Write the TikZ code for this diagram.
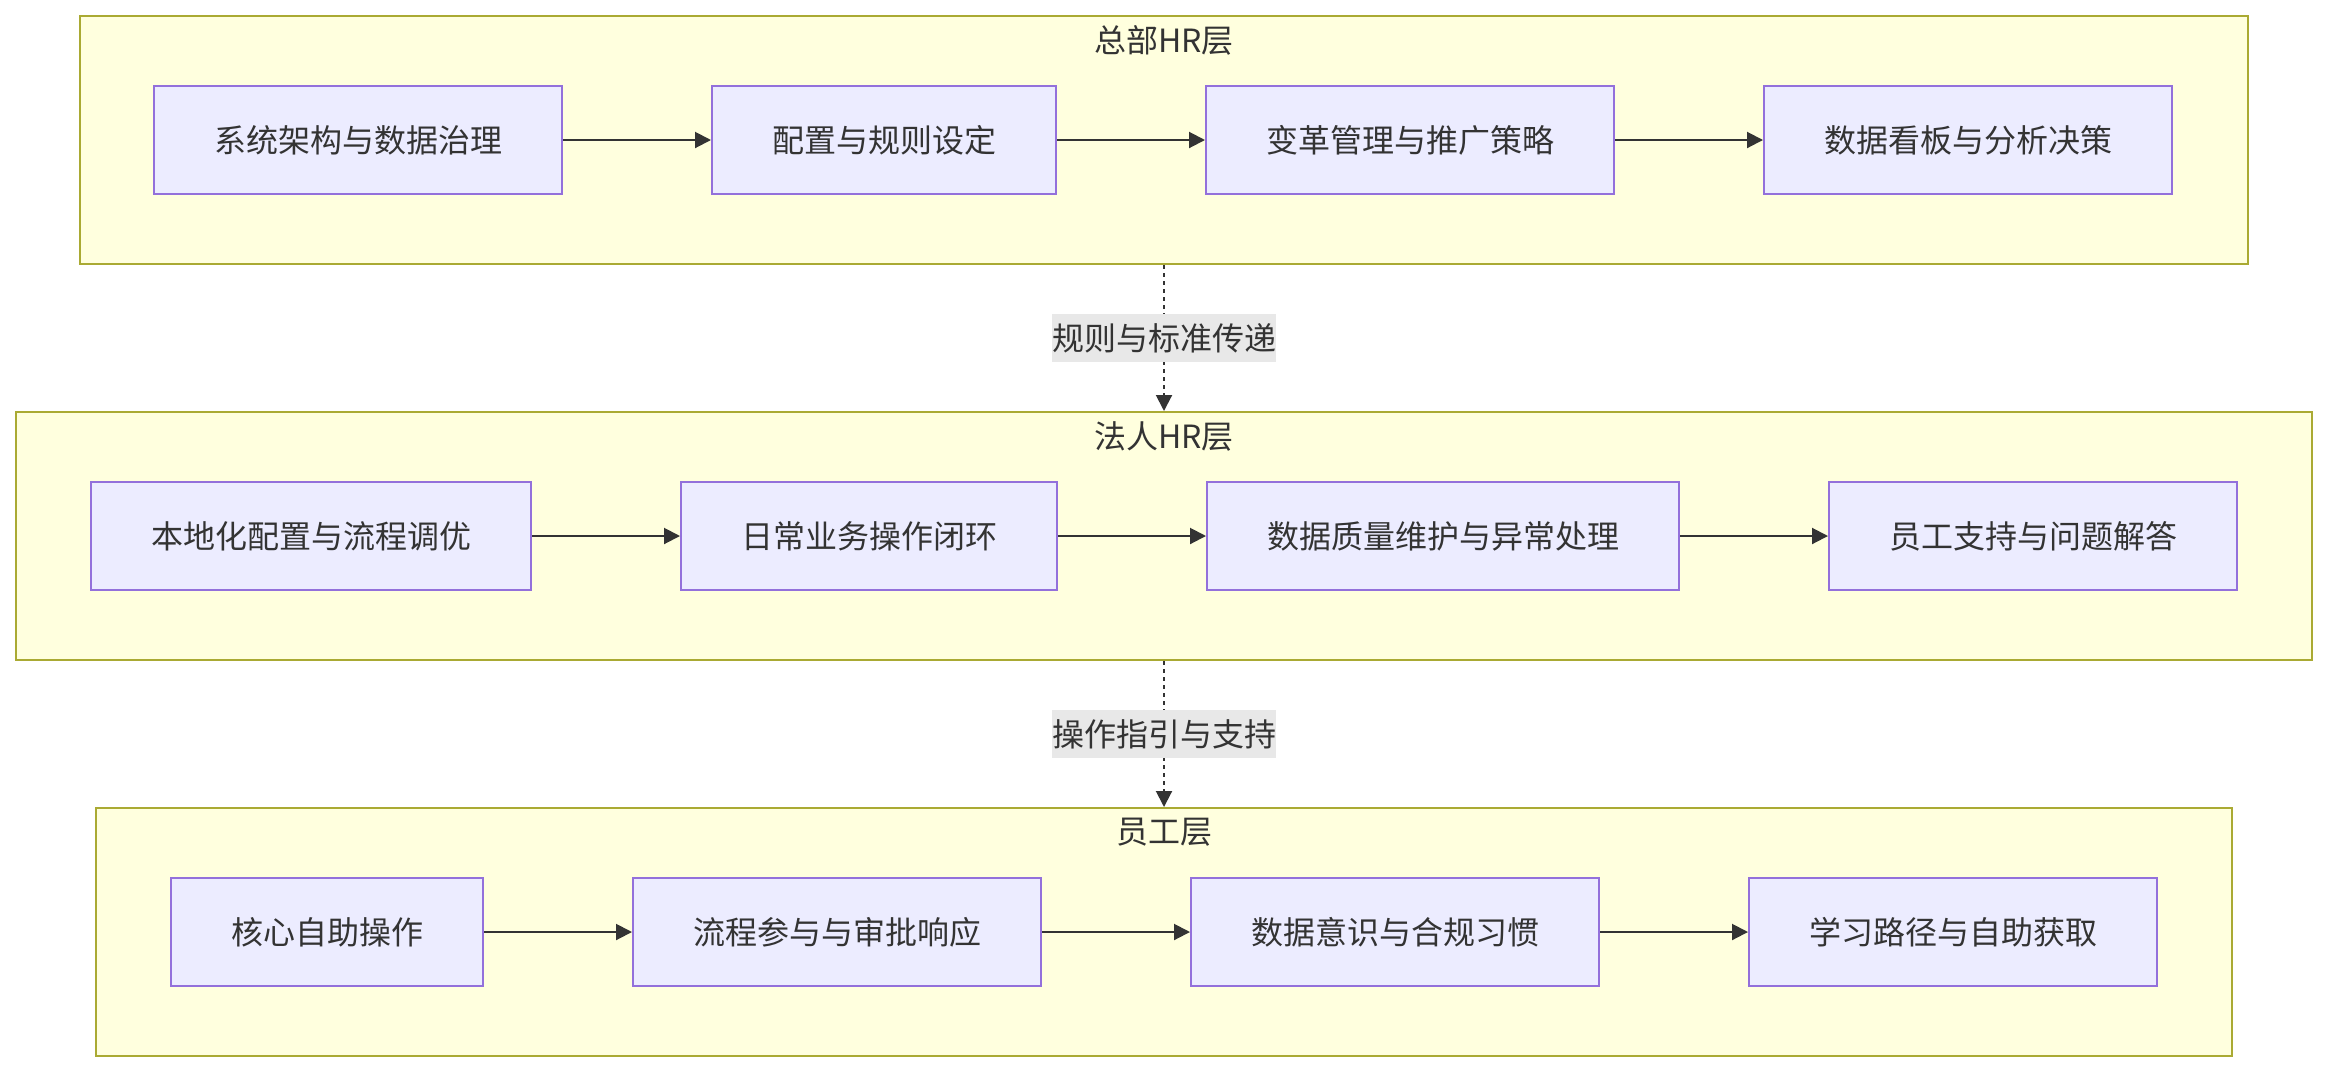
\documentclass[tikz,border=0pt]{standalone}
\usepackage{fontspec}
\setmainfont{Noto Sans CJK SC}
\usetikzlibrary{arrows.meta}
\definecolor{boxfill}{HTML}{ECECFF}
\definecolor{boxline}{HTML}{9370DB}
\definecolor{clfill}{HTML}{FFFFDE}
\definecolor{clline}{HTML}{AAAA33}
\definecolor{txt}{HTML}{333333}
\definecolor{lblbg}{HTML}{E8E8E8}
\tikzset{
  stepbox/.style={draw=boxline, fill=boxfill, line width=1pt, minimum height=54pt, inner sep=0pt, text=txt, font=\fontsize{16}{19}\selectfont},
  cluster/.style={draw=clline, fill=clfill, line width=1pt, minimum height=124pt, inner sep=0pt},
  cltitle/.style={text=txt, font=\fontsize{16}{19}\selectfont, inner sep=0pt},
  flow/.style={draw=txt, line width=1pt, -{Triangle[length=8pt,width=8pt]}},
  link/.style={draw=txt, line width=1pt, dash pattern=on 2pt off 2pt, -{Triangle[length=8pt,width=8pt]}},
  elabel/.style={fill=lblbg, text=txt, font=\fontsize{16}{19}\selectfont, inner xsep=0pt, inner ysep=0pt, minimum height=24pt}
}
\begin{document}
\begin{tikzpicture}[x=0.5pt, y=-0.5pt]
\useasboundingbox[fill=white] (0,0) rectangle (2328,1072);
% clusters
\node[cluster, minimum width=1084pt] (c1) at (1164,140) {};
\node[cluster, minimum width=1148pt] (c2) at (1164,536) {};
\node[cluster, minimum width=1068pt] (c3) at (1164,932) {};
\node[cltitle] (t1) at (1164,40) {总部HR层};
\node[cltitle] (t2) at (1164,436) {法人HR层};
\node[cltitle] (t3) at (1164,832) {员工层};
% row 1
\node[stepbox, minimum width=204pt] (a1) at (358,140) {系统架构与数据治理};
\node[stepbox, minimum width=172pt] (a2) at (884,140) {配置与规则设定};
\node[stepbox, minimum width=204pt] (a3) at (1410,140) {变革管理与推广策略};
\node[stepbox, minimum width=204pt] (a4) at (1968,140) {数据看板与分析决策};
% row 2
\node[stepbox, minimum width=220pt] (b1) at (311,536) {本地化配置与流程调优};
\node[stepbox, minimum width=188pt] (b2) at (869,536) {日常业务操作闭环};
\node[stepbox, minimum width=236pt] (b3) at (1443,536) {数据质量维护与异常处理};
\node[stepbox, minimum width=204pt] (b4) at (2033,536) {员工支持与问题解答};
% row 3
\node[stepbox, minimum width=156pt] (d1) at (327,932) {核心自助操作};
\node[stepbox, minimum width=204pt] (d2) at (837,932) {流程参与与审批响应};
\node[stepbox, minimum width=204pt] (d3) at (1395,932) {数据意识与合规习惯};
\node[stepbox, minimum width=204pt] (d4) at (1953,932) {学习路径与自助获取};
% flows
\draw[flow] (a1) -- (a2);
\draw[flow] (a2) -- (a3);
\draw[flow] (a3) -- (a4);
\draw[flow] (b1) -- (b2);
\draw[flow] (b2) -- (b3);
\draw[flow] (b3) -- (b4);
\draw[flow] (d1) -- (d2);
\draw[flow] (d2) -- (d3);
\draw[flow] (d3) -- (d4);
% inter-layer links
\draw[link] (c1.south) -- (c2.north) node[midway, elabel] (l1) {规则与标准传递};
\draw[link] (c2.south) -- (c3.north) node[midway, elabel] (l2) {操作指引与支持};
\end{tikzpicture}
\end{document}
